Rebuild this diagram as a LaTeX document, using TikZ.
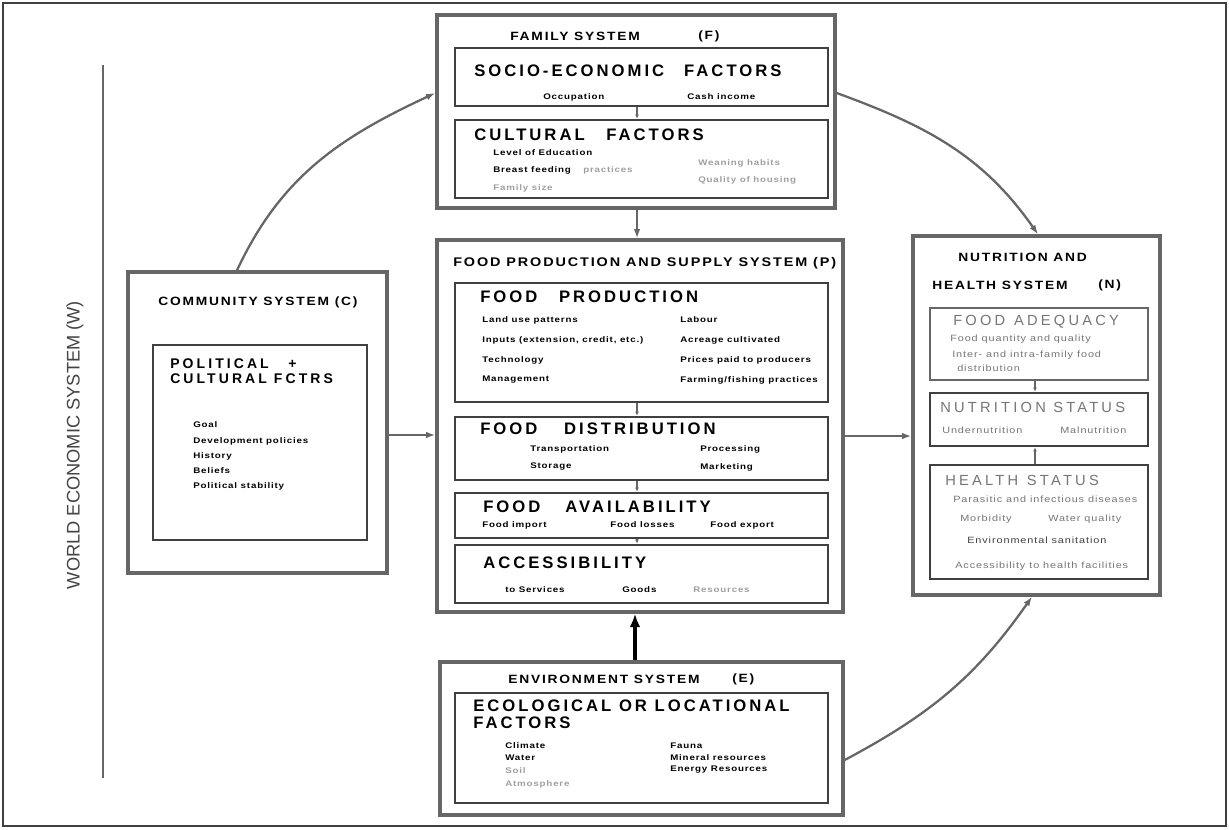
\documentclass[tikz,border=0pt]{standalone}
\usepackage{fontspec}
\setmainfont{Liberation Sans}
\newfontfamily\fitem[LetterSpace=10,FakeStretch=1.2]{Liberation Sans}
\newfontfamily\fsys[LetterSpace=15,FakeStretch=1.15]{Liberation Sans}
\newfontfamily\fbig[LetterSpace=18]{Liberation Sans}
\newfontfamily\fwide[LetterSpace=22]{Liberation Sans}
\usetikzlibrary{fit,arrows.meta}

\definecolor{linegray}{HTML}{666666}
\definecolor{boxdark}{HTML}{404040}
\definecolor{fadetext}{HTML}{A0A0A0}
\definecolor{midtext}{HTML}{767676}
\definecolor{worldtext}{HTML}{444444}

\begin{document}
\begin{tikzpicture}[x=0.75pt,y=-0.75pt,
  obox/.style={draw=linegray, line width=2.5pt, inner sep=0pt},
  ibox/.style={draw=boxdark, line width=2.2pt, inner sep=0pt},
  lbl/.style={anchor=west, inner sep=0pt},
  item/.style={lbl, font=\fitem\bfseries\fontsize{6.1}{7}\selectfont},
  itemr/.style={lbl, font=\fitem\fontsize{6.8}{7.8}\selectfont, text=midtext},
  fade/.style={text=fadetext},
  systitle/.style={lbl, font=\fsys\bfseries\fontsize{9}{10}\selectfont},
  bigtitle/.style={lbl, font=\fbig\bfseries\fontsize{12.5}{14}\selectfont},
  ctitle/.style={lbl, font=\fwide\bfseries\fontsize{10.5}{11.5}\selectfont},
  ntitle/.style={lbl, font=\fwide\fontsize{11}{12}\selectfont, text=midtext},
  garrow/.style={draw=linegray, line width=1.7pt, -{Latex[length=7pt,width=5pt]}},
  karrow/.style={draw=black, line width=2.6pt, -{Latex[length=10pt,width=8pt]}},
  sarrow/.style={draw=linegray, line width=0.8pt, -{Latex[length=3pt,width=3pt]}},
]
\useasboundingbox (0,0) rectangle (1229,829);
\fill[white] (0,0) rectangle (1229,829);

% outer frame and world system axis
\draw[boxdark, line width=2pt] (3,3) rectangle (1226,826);
\draw[linegray, line width=2pt] (103,65) -- (103,778);
\node[rotate=90, inner sep=0pt, text=worldtext, font=\fontsize{13.7}{15}\selectfont] (W) at (75,445) {WORLD ECONOMIC SYSTEM (W)};

% ---------- family system ----------
\node[obox, fit={(437,15) (835,208)}] (F) {};
\node[ibox, fit={(455,48) (828,106)}] (Fse) {};
\node[ibox, fit={(455,120) (828,198)}] (Fcu) {};
\node[systitle] (Ft) at (510,36) {FAMILY SYSTEM};
\node[systitle] (Fl) at (698,36) {(F)};
\node[bigtitle] (Fset) at (474,71) {SOCIO-ECONOMIC\hspace{1.2em}FACTORS};
\node[item] (Fs1) at (543,97) {Occupation};
\node[item] (Fs2) at (687,97) {Cash income};
\node[bigtitle] (Fcut) at (474,135) {CULTURAL\hspace{1.3em}FACTORS};
\node[item] (Fc1) at (493,153) {Level of Education};
\node[item] (Fc2) at (493,170) {Breast feeding};
\node[item, fade] (Fc3) at (583,170) {practices};
\node[item, fade] (Fc4) at (493,188) {Family size};
\node[item, fade] (Fc5) at (698,163) {Weaning habits};
\node[item, fade] (Fc6) at (698,180) {Quality of housing};

% ---------- community system ----------
\node[obox, fit={(128,272) (387,573)}] (C) {};
\node[ibox, fit={(153,345) (367,540)}] (Ci) {};
\node[systitle] (Ct) at (158,302) {COMMUNITY SYSTEM (C)};
\node[ctitle] (Ct1) at (170,364) {POLITICAL\hspace{1.4em}+};
\node[ctitle] (Ct2) at (170,379) {CULTURAL FCTRS};
\node[item] (Cc1) at (193,425) {Goal};
\node[item] (Cc2) at (193,441) {Development policies};
\node[item] (Cc3) at (193,456) {History};
\node[item] (Cc4) at (193,471) {Beliefs};
\node[item] (Cc5) at (193,486) {Political stability};

% ---------- food production and supply system ----------
\node[obox, fit={(437,240) (843,612)}] (P) {};
\node[ibox, fit={(455,283) (828,402)}] (Pp) {};
\node[ibox, fit={(455,417) (828,480)}] (Pd) {};
\node[ibox, fit={(455,493) (828,538)}] (Pa) {};
\node[ibox, fit={(455,545) (828,603)}] (Pc) {};
\node[systitle, font=\fsys\bfseries\fontsize{9.4}{10.5}\selectfont] (Pt) at (453,263) {FOOD PRODUCTION AND SUPPLY SYSTEM (P)};
\node[bigtitle] (Ppt) at (480,297) {FOOD\hspace{1.3em}PRODUCTION};
\node[item] (Pp1) at (482,320) {Land use patterns};
\node[item] (Pp2) at (482,340) {Inputs (extension, credit, etc.)};
\node[item] (Pp3) at (482,360) {Technology};
\node[item] (Pp4) at (482,380) {Management};
\node[item] (Pp5) at (680,320) {Labour};
\node[item] (Pp6) at (680,340) {Acreage cultivated};
\node[item] (Pp7) at (680,360) {Prices paid to producers};
\node[item] (Pp8) at (680,380) {Farming/fishing practices};
\node[bigtitle] (Pdt) at (480,429) {FOOD\hspace{1.6em}DISTRIBUTION};
\node[item] (Pd1) at (530,449) {Transportation};
\node[item] (Pd2) at (700,449) {Processing};
\node[item] (Pd3) at (530,467) {Storage};
\node[item] (Pd4) at (700,467) {Marketing};
\node[bigtitle] (Pat) at (483,507) {FOOD\hspace{1.5em}AVAILABILITY};
\node[item] (Pa1) at (482,525) {Food import};
\node[item] (Pa2) at (610,525) {Food losses};
\node[item] (Pa3) at (710,525) {Food export};
\node[bigtitle] (Pct) at (483,563) {ACCESSIBILITY};
\node[item] (Pc1) at (505,590) {to Services};
\node[item] (Pc2) at (622,590) {Goods};
\node[item, fade] (Pc3) at (693,590) {Resources};

% ---------- environment system ----------
\node[obox, fit={(440,662) (843,815)}] (E) {};
\node[ibox, fit={(455,693) (828,803)}] (Ei) {};
\node[systitle] (Et) at (508,679) {ENVIRONMENT SYSTEM};
\node[systitle] (El) at (732,679) {(E)};
\node[bigtitle] (Et1) at (473,706) {ECOLOGICAL OR LOCATIONAL};
\node[bigtitle] (Et2) at (473,723) {FACTORS};
\node[item] (Ee1) at (505,746) {Climate};
\node[item] (Ee2) at (505,758) {Water};
\node[item, fade] (Ee3) at (505,771) {Soil};
\node[item, fade] (Ee4) at (505,784) {Atmosphere};
\node[item] (Ee5) at (670,746) {Fauna};
\node[item] (Ee6) at (670,758) {Mineral resources};
\node[item] (Ee7) at (670,770) {Energy Resources};

% ---------- nutrition and health system ----------
\node[obox, fit={(913,236) (1160,595)}] (N) {};
\node[ibox, draw=linegray, fit={(930,308) (1148,380)}] (Na) {};
\node[ibox, fit={(930,393) (1148,446)}] (Nn) {};
\node[ibox, fit={(930,465) (1148,579)}] (Nh) {};
\node[systitle] (Nt1) at (958,257) {NUTRITION AND};
\node[systitle] (Nt2) at (932,285) {HEALTH SYSTEM};
\node[systitle] (Nl) at (1098,285) {(N)};
\node[ntitle] (Nat) at (953,322) {FOOD\hspace{0.6em}ADEQUACY};
\node[itemr] (Na1) at (950,339) {Food quantity and quality};
\node[itemr] (Na2) at (952,355) {Inter- and intra-family food};
\node[itemr] (Na3) at (957,368) {distribution};
\node[ntitle] (Nnt) at (940,407) {NUTRITION\hspace{0.5em}STATUS};
\node[itemr] (Nn1) at (942,430) {Undernutrition};
\node[itemr] (Nn2) at (1060,430) {Malnutrition};
\node[ntitle] (Nht) at (945,480) {HEALTH\hspace{0.6em}STATUS};
\node[itemr] (Nh1) at (953,499) {Parasitic and infectious diseases};
\node[itemr] (Nh2) at (960,519) {Morbidity};
\node[itemr] (Nh3) at (1048,519) {Water quality};
\node[itemr, text=boxdark] (Nh4) at (967,540) {Environmental sanitation};
\node[itemr] (Nh5) at (955,566) {Accessibility to health facilities};

% ---------- connectors between systems ----------
\draw[garrow] (F.south -| 637,0) -- (P.north -| 637,0);
\draw[garrow] (C.east |- 0,435) -- (P.west |- 0,435);
\draw[garrow] (P.east |- 0,436) -- (N.west |- 0,436);
\draw[karrow] (E.north -| 635,0) -- (P.south -| 635,0);
\draw[garrow] (C.north -| 237,0) to[out=65,in=205] (F.west |- 0,93);
\draw[garrow] (F.east |- 0,93) to[out=-20,in=125] (N.north -| 1038,0);
\draw[garrow] (E.east |- 0,760) to[out=28,in=-125] (N.south -| 1032,0);

% ---------- links between factor groups ----------
\draw[sarrow] (Fse.south -| 637,0) -- (Fcu.north -| 637,0);
\draw[sarrow] (Pp.south -| 637,0) -- (Pd.north -| 637,0);
\draw[sarrow] (Pd.south -| 637,0) -- (Pa.north -| 637,0);
\draw[sarrow] (Pa.south -| 637,0) -- (Pc.north -| 637,0);
\draw[sarrow] (Na.south -| 1035,0) -- (Nn.north -| 1035,0);
\draw[sarrow] (Nh.north -| 1035,0) -- (Nn.south -| 1035,0);
\end{tikzpicture}
\end{document}
